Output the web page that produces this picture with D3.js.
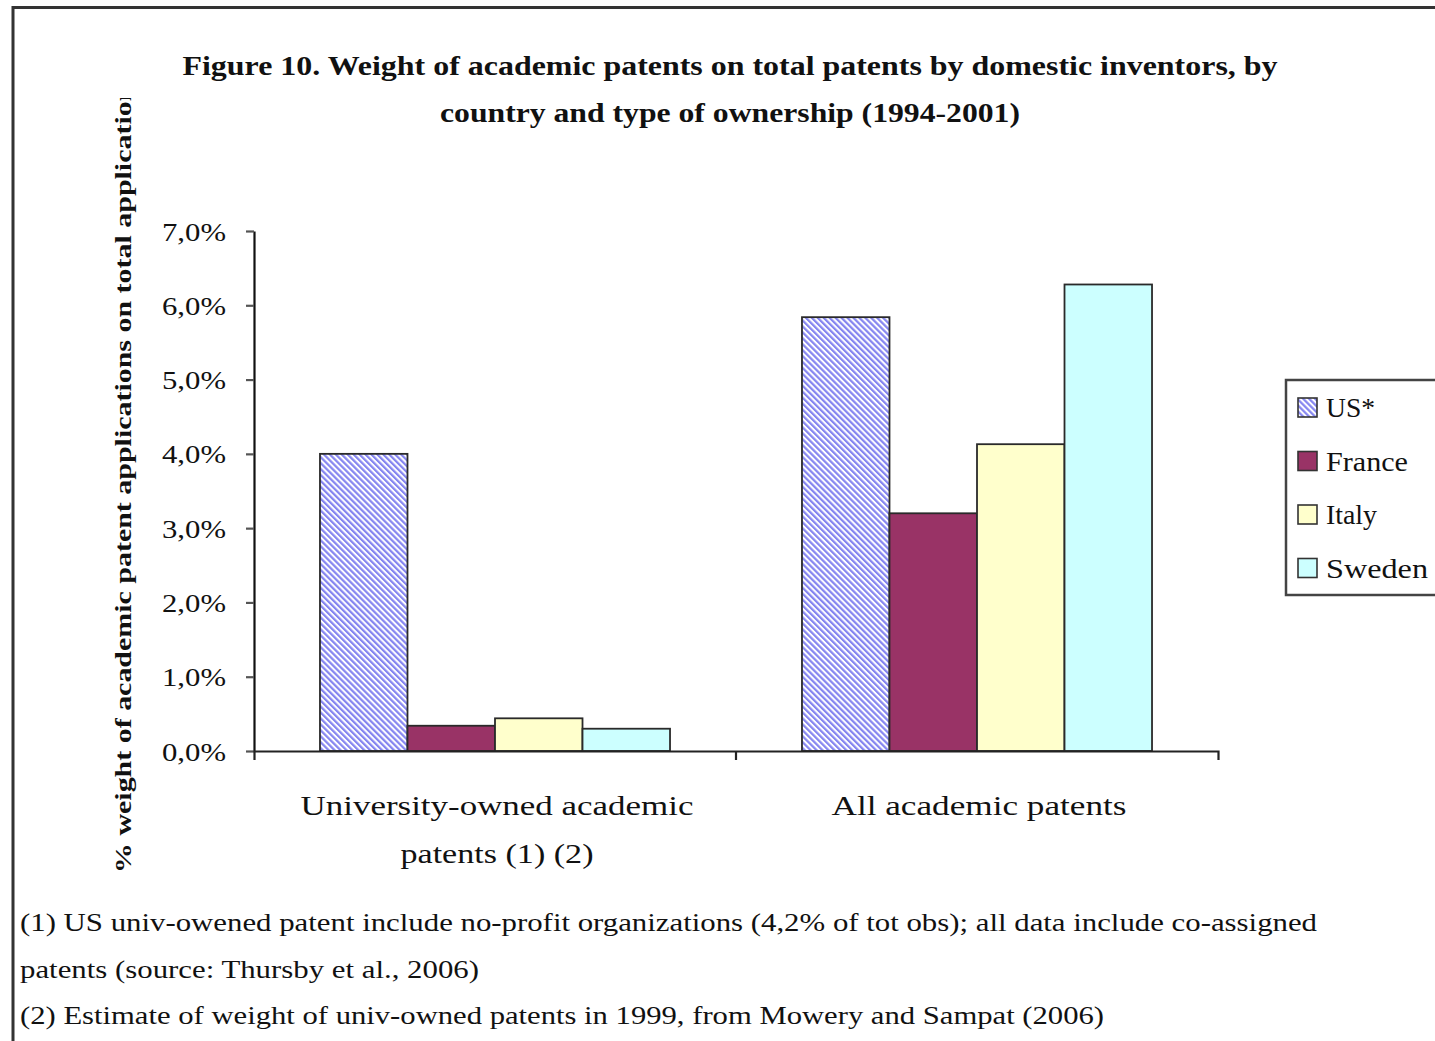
<!DOCTYPE html>
<html>
<head>
<meta charset="utf-8">
<script src="https://cdn.jsdelivr.net/npm/d3@7"></script>
<style>
body { margin: 0; background: #fff; }
text { font-family: "Liberation Serif", "DejaVu Serif", serif; fill: #111; }
</style>
</head>
<body>
<div id="chart"></div>
<script>
const categories = ["University-owned academic patents (1) (2)", "All academic patents"];
const categoryLines = [["University-owned academic", "patents (1) (2)"], ["All academic patents"]];
const series = ["US*", "France", "Italy", "Sweden"];
const usValues = [0.040, 0.0584];
const franceValues = [0.0034, 0.0320];
const italyValues = [0.0044, 0.0413];
const swedenValues = [0.0030, 0.0628];
const yTicks = [0, 0.01, 0.02, 0.03, 0.04, 0.05, 0.06, 0.07];
const titleLines = [
    "Figure 10. Weight of academic patents on total patents by domestic inventors, by",
    "country and type of ownership (1994-2001)"
];
const yLabel = "% weight of academic patent applications on total applications";
const footnotes = [
    "(1) US univ-owened patent include no-profit organizations (4,2% of tot obs); all data include co-assigned",
    "patents (source: Thursby et al., 2006)",
    "(2) Estimate of weight of univ-owned patents in 1999, from Mowery and Sampat (2006)"
];

const values = [usValues, franceValues, italyValues, swedenValues];
const colors = ["url(#hatch)", "#993366", "#ffffcc", "#ccffff"];

const width = 1435, height = 1041;
const svg = d3.select("#chart").append("svg").attr("width", width).attr("height", height);

const defs = svg.append("defs");
const pat = defs.append("pattern").attr("id", "hatch")
    .attr("patternUnits", "userSpaceOnUse")
    .attr("width", 4.2).attr("height", 4.2)
    .attr("patternTransform", "rotate(-45)");
pat.append("rect").attr("width", 4.2).attr("height", 4.2).attr("fill", "#ffffff");
pat.append("rect").attr("width", 2.2).attr("height", 4.2).attr("fill", "#8585f0");

defs.append("clipPath").attr("id", "ylabclip")
    .append("rect").attr("x", 0).attr("y", 98).attr("width", 200).attr("height", 900);

// frame
svg.append("path")
    .attr("d", "M13,1041 L13,7.5 L1435,7.5")
    .attr("fill", "none").attr("stroke", "#333").attr("stroke-width", 3);

// title
svg.append("g").selectAll("text").data(titleLines).enter().append("text")
    .attr("x", 730).attr("y", (d, i) => 75 + i * 47)
    .attr("text-anchor", "middle")
    .attr("font-size", 27).attr("font-weight", "bold")
    .attr("textLength", (d, i) => i === 0 ? 1095 : 580)
    .attr("lengthAdjust", "spacingAndGlyphs")
    .text(d => d);

const y = d3.scaleLinear().domain([0, 0.07]).range([751, 231]);
const x0 = d3.scaleBand().domain(categories).range([254, 1218]).padding(0);
const x1 = d3.scaleBand().domain(series).range([0, x0.bandwidth()]).paddingInner(0).paddingOuter(0.754);

// bars
const groups = svg.append("g").selectAll("g").data(categories).enter().append("g")
    .attr("transform", d => "translate(" + x0(d) + ",0)");
groups.selectAll("rect")
    .data((c, ci) => series.map((s, si) => ({s: s, si: si, v: values[si][ci]})))
    .enter().append("rect")
    .attr("x", d => x1(d.s))
    .attr("y", d => y(d.v))
    .attr("width", x1.bandwidth())
    .attr("height", d => y(0) - y(d.v))
    .attr("fill", d => colors[d.si])
    .attr("stroke", "#2a2a2a").attr("stroke-width", 1.8);

// y axis
const yAxis = svg.append("g").attr("transform", "translate(254,0)")
    .call(d3.axisLeft(y).tickValues(yTicks).tickSize(8).tickSizeOuter(0).tickPadding(20)
        .tickFormat(d => (d * 100).toFixed(1).replace(".", ",") + "%"));
yAxis.select(".domain").attr("stroke", "#111").attr("stroke-width", 2.2);
yAxis.selectAll(".tick line").attr("stroke", "#555").attr("stroke-width", 2.2);
yAxis.selectAll(".tick text").attr("font-size", 26)
    .attr("textLength", 64).attr("lengthAdjust", "spacingAndGlyphs")
    .attr("fill", "#222").attr("dy", "0.35em");

// x axis
const xAxis = svg.append("g").attr("transform", "translate(0,751)")
    .call(d3.axisBottom(x0).tickSize(0).tickSizeOuter(9).tickFormat(""));
xAxis.select(".domain").attr("stroke", "#222").attr("stroke-width", 2.2);
xAxis.append("line")
    .attr("x1", x0(categories[1])).attr("x2", x0(categories[1]))
    .attr("y1", 0).attr("y2", 9)
    .attr("stroke", "#222").attr("stroke-width", 2.2);

const catWidths = [[393, 193], [295]];
categories.forEach((c, ci) => {
    svg.append("g").selectAll("text").data(categoryLines[ci]).enter().append("text")
        .attr("x", x0(c) + x0.bandwidth() / 2 + 2)
        .attr("y", (d, i) => 815 + i * 48)
        .attr("text-anchor", "middle")
        .attr("font-size", 28)
        .attr("textLength", (d, i) => catWidths[ci][i])
        .attr("lengthAdjust", "spacingAndGlyphs")
        .text(d => d);
});

// y label
svg.append("g").attr("clip-path", "url(#ylabclip)")
    .append("text")
    .attr("transform", "translate(131,873) rotate(-90)")
    .attr("font-size", 24).attr("font-weight", "bold")
    .attr("textLength", 800)
    .attr("lengthAdjust", "spacingAndGlyphs")
    .text(yLabel);

// legend
const legendWidths = [49, 82, 51, 102];
const legend = svg.append("g");
legend.append("rect")
    .attr("x", 1286).attr("y", 380).attr("width", 170).attr("height", 215)
    .attr("fill", "#fff").attr("stroke", "#444").attr("stroke-width", 2.5);
const items = legend.selectAll("g.item").data(series).enter().append("g")
    .attr("transform", (d, i) => "translate(1298," + (407 + i * 53.5) + ")");
items.append("rect")
    .attr("x", 0).attr("y", -9).attr("width", 19).attr("height", 19)
    .attr("fill", (d, i) => colors[i])
    .attr("stroke", "#333").attr("stroke-width", 1.6);
items.append("text")
    .attr("x", 28).attr("y", 10)
    .attr("font-size", 27)
    .attr("textLength", (d, i) => legendWidths[i])
    .attr("lengthAdjust", "spacingAndGlyphs")
    .text(d => d);

// footnotes
const fnWidths = [1297, 459, 1084];
svg.append("g").selectAll("text").data(footnotes).enter().append("text")
    .attr("x", 20).attr("y", (d, i) => 931 + i * 46.5)
    .attr("font-size", 25)
    .attr("textLength", (d, i) => fnWidths[i])
    .attr("lengthAdjust", "spacingAndGlyphs")
    .text(d => d);
</script>
</body>
</html>
